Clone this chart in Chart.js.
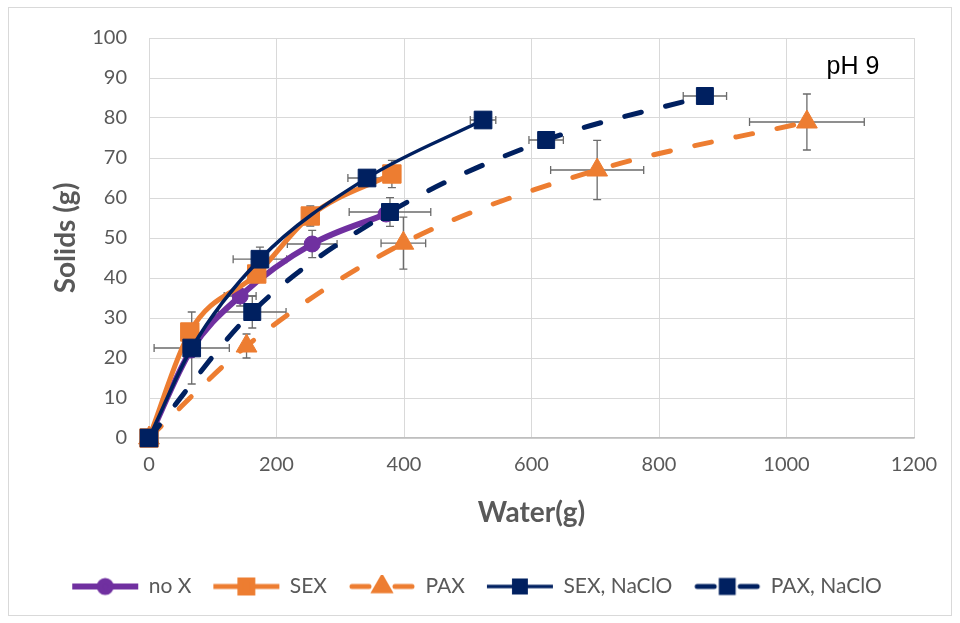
<!DOCTYPE html>
<html>
<head>
<meta charset="utf-8">
<script src="https://cdn.jsdelivr.net/npm/chart.js@4.4.1/dist/chart.umd.min.js"></script>
<style>
  html, body { margin: 0; padding: 0; background: #fff; }
  #wrap { width: 960px; height: 623px; }
</style>
</head>
<body>
<div id="wrap"><canvas id="solidsChart" width="960" height="623"></canvas></div>
<script>
// values (water and solids in g, +/- error)
const seriesNames = ['no X', 'SEX', 'PAX', 'SEX, NaClO', 'PAX, NaClO'];

const noXWater = [0, 66, 143, 256, 372];
const noXSolids = [0, 22, 35.5, 48.5, 56];
const noXWaterErr = [0, 0, 25, 39, 0];
const noXSolidsErr = [0, 0, 2.5, 3.4, 0];

const sexWater = [0, 64, 169, 253, 381];
const sexSolids = [0, 26.5, 41, 55.5, 66];
const sexWaterErr = [0, 0, 0, 0, 0];
const sexSolidsErr = [0, 0, 0, 2.5, 3.4];

const paxWater = [0, 153, 399, 703, 1032];
const paxSolids = [0, 23, 48.7, 67, 79];
const paxWaterErr = [0, 0, 35, 73, 90];
const paxSolidsErr = [0, 3, 6.5, 7.4, 7];

const sexNaWater = [0, 67, 174, 342, 524];
const sexNaSolids = [0, 22.5, 44.7, 65, 79.5];
const sexNaWaterErr = [0, 59, 42, 30, 20];
const sexNaSolidsErr = [0, 9, 3, 1, 1];

const paxNaWater = [0, 162, 378, 623, 872];
const paxNaSolids = [0, 31.5, 56.5, 74.5, 85.5];
const paxNaWaterErr = [0, 53, 64, 27, 34];
const paxNaSolidsErr = [0, 4, 3.6, 1, 1];

const waterTicks = [0, 200, 400, 600, 800, 1000, 1200];
const solidsTicks = [0, 10, 20, 30, 40, 50, 60, 70, 80, 90, 100];

const purple = '#7030A0';
const orange = '#ED7D31';
const navy = '#002060';
const gray = '#595959';

function points(water, solids) {
    return water.map((w, i) => ({ x: w, y: solids[i] }));
}

// little line+marker picture for each legend entry
function legendIcon(color, width, dashed, style, radius) {
    const c = document.createElement('canvas');
    c.width = 70;
    c.height = 24;
    const g = c.getContext('2d');
    g.strokeStyle = color;
    g.lineWidth = width;
    g.beginPath();
    if (dashed) {
        g.lineCap = 'round';
        g.moveTo(5, 12); g.lineTo(22, 12);
        g.moveTo(48, 12); g.lineTo(65, 12);
    } else {
        g.moveTo(2, 12); g.lineTo(68, 12);
    }
    g.stroke();
    g.fillStyle = color;
    Chart.helpers.drawPoint(g, { pointStyle: style, radius: radius, borderWidth: 1, rotation: 0 }, 35, 12);
    return c;
}

function makeSet(i, water, solids, wErr, sErr, color, width, dashed, style, radius) {
    return {
        label: seriesNames[i],
        data: points(water, solids),
        waterErr: wErr,
        solidsErr: sErr,
        borderColor: color,
        backgroundColor: color,
        borderWidth: width,
        borderDash: dashed ? [17, 25] : [],
        borderCapStyle: dashed ? 'round' : 'butt',
        cubicInterpolationMode: 'monotone',
        pointStyle: style,
        pointRadius: radius,
        pointBorderWidth: 1,
        pointHoverRadius: radius,
        clip: false,
        order: 4 - i,
        icon: legendIcon(color, width, dashed, style, radius * 0.7)
    };
}

const datasets = [
    makeSet(0, noXWater, noXSolids, noXWaterErr, noXSolidsErr, purple, 6, false, 'circle', 8),
    makeSet(1, sexWater, sexSolids, sexWaterErr, sexSolidsErr, orange, 5, false, 'rect', 13),
    makeSet(2, paxWater, paxSolids, paxWaterErr, paxSolidsErr, orange, 5, true, 'triangle', 12),
    makeSet(3, sexNaWater, sexNaSolids, sexNaWaterErr, sexNaSolidsErr, navy, 3.5, false, 'rect', 12.5),
    makeSet(4, paxNaWater, paxNaSolids, paxNaWaterErr, paxNaSolidsErr, navy, 5, true, 'rect', 12)
];

// white page with thin frame
const frame = {
    id: 'frame',
    beforeDraw(chart) {
        const ctx = chart.ctx;
        ctx.save();
        ctx.fillStyle = '#fff';
        ctx.fillRect(0, 0, chart.width, chart.height);
        ctx.strokeStyle = '#d9d9d9';
        ctx.lineWidth = 1;
        ctx.strokeRect(8.5, 7.5, 943, 608);
        ctx.restore();
    }
};

// x and y error bars with caps
const errorBars = {
    id: 'errorBars',
    beforeDatasetsDraw(chart) {
        const { ctx, scales: { x, y } } = chart;
        const cap = 4;
        ctx.save();
        ctx.strokeStyle = '#6b6b6b';
        ctx.lineWidth = 1.3;
        chart.data.datasets.forEach(ds => {
            ds.data.forEach((p, i) => {
                const px = x.getPixelForValue(p.x);
                const py = y.getPixelForValue(p.y);
                const ex = ds.waterErr[i];
                const ey = ds.solidsErr[i];
                ctx.beginPath();
                if (ex) {
                    const l = x.getPixelForValue(p.x - ex);
                    const r = x.getPixelForValue(p.x + ex);
                    ctx.moveTo(l, py); ctx.lineTo(r, py);
                    ctx.moveTo(l, py - cap); ctx.lineTo(l, py + cap);
                    ctx.moveTo(r, py - cap); ctx.lineTo(r, py + cap);
                }
                if (ey) {
                    const t = y.getPixelForValue(p.y + ey);
                    const b = y.getPixelForValue(p.y - ey);
                    ctx.moveTo(px, t); ctx.lineTo(px, b);
                    ctx.moveTo(px - cap, t); ctx.lineTo(px + cap, t);
                    ctx.moveTo(px - cap, b); ctx.lineTo(px + cap, b);
                }
                ctx.stroke();
            });
        });
        ctx.restore();
    }
};

// "pH 9" note in the top right corner of the plot
const phLabel = {
    id: 'phLabel',
    afterDraw(chart) {
        const { ctx, chartArea } = chart;
        ctx.save();
        ctx.font = '25px "Liberation Sans", Arial, sans-serif';
        ctx.fillStyle = '#000';
        ctx.textAlign = 'center';
        ctx.textBaseline = 'middle';
        ctx.fillText('pH 9', chartArea.right - 61, chartArea.top + 29);
        ctx.restore();
    }
};

const ctx = document.getElementById('solidsChart').getContext('2d');
new Chart(ctx, {
    type: 'line',
    data: { datasets: datasets },
    options: {
        responsive: false,
        animation: false,
        layout: { padding: { top: 38, left: 40, right: 46, bottom: 16 } },
        scales: {
            x: {
                type: 'linear',
                min: 0,
                max: 1200,
                afterBuildTicks: s => { s.ticks = waterTicks.map(v => ({ value: v })); },
                afterFit: s => { s.height = 116; },
                grid: { color: '#d9d9d9', drawTicks: false },
                border: { color: '#bfbfbf', width: 1.5 },
                ticks: { padding: 15, color: gray, font: { family: 'Lato', size: 20 }, callback: v => String(v) },
                title: {
                    display: true,
                    text: 'Water(g)',
                    color: gray,
                    font: { family: 'Lato', size: 28, weight: 'bold' },
                    padding: { top: 0, bottom: 24 }
                }
            },
            y: {
                min: 0,
                max: 100,
                afterBuildTicks: s => { s.ticks = solidsTicks.map(v => ({ value: v })); },
                afterFit: s => { s.width = 109; },
                grid: { color: '#d9d9d9', drawTicks: false },
                border: { color: '#d9d9d9' },
                ticks: { padding: 22, color: gray, font: { family: 'Lato', size: 20 }, callback: v => String(v) },
                title: {
                    display: true,
                    text: 'Solids (g)',
                    color: gray,
                    font: { family: 'Lato', size: 28, weight: 'bold' },
                    padding: { top: 9, bottom: 0 }
                }
            }
        },
        plugins: {
            tooltip: { enabled: false },
            legend: {
                position: 'bottom',
                labels: {
                    usePointStyle: true,
                    pointStyleWidth: 66,
                    padding: 22,
                    color: gray,
                    font: { family: 'Lato', size: 21 },
                    generateLabels: chart => chart.data.datasets.map((ds, i) => ({
                        text: ds.label,
                        pointStyle: ds.icon,
                        fillStyle: ds.borderColor,
                        strokeStyle: ds.borderColor,
                        fontColor: gray,
                        lineWidth: 0,
                        hidden: false,
                        datasetIndex: i
                    }))
                }
            }
        }
    },
    plugins: [frame, errorBars, phLabel]
});
</script>
</body>
</html>
